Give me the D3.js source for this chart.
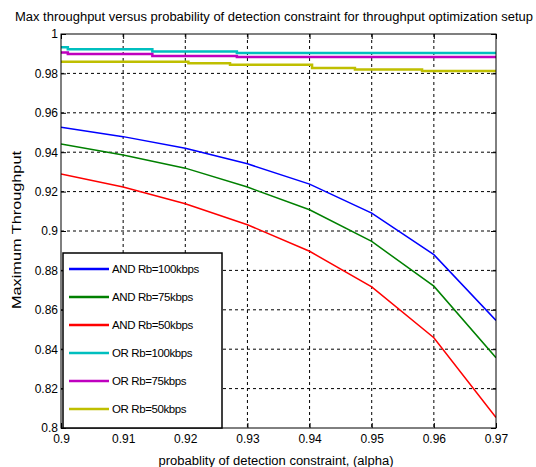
<!DOCTYPE html>
<html><head><meta charset="utf-8">
<script src="https://cdn.jsdelivr.net/npm/d3@7"></script>
<style>body{margin:0;background:#fff}text{font-family:"Liberation Sans",Arial,sans-serif;fill:#000}</style>
</head><body><svg id="c" width="536" height="467"></svg>
<script>
// ---- data ----
const alphaAND = [0.90,0.91,0.92,0.93,0.94,0.95,0.96,0.97];
const andRb100 = [0.9527,0.9479,0.9420,0.9341,0.9238,0.9091,0.8880,0.8546];
const andRb75  = [0.9442,0.9386,0.9319,0.9223,0.9108,0.8947,0.8720,0.8357];
const andRb50  = [0.9289,0.9223,0.9138,0.9032,0.8897,0.8716,0.8458,0.8053];
const alphaOR100 = [0.900,0.9011,0.9147,0.9283,0.97];
const orRb100    = [0.9933,0.9923,0.9911,0.9904,0.9904];
const alphaOR75  = [0.900,0.9011,0.9147,0.9283,0.97];
const orRb75     = [0.9906,0.9898,0.9888,0.9883,0.9883];
const alphaOR50  = [0.900,0.9205,0.9272,0.9404,0.9473,0.9581,0.97];
const orRb50     = [0.9859,0.9851,0.9844,0.9828,0.9820,0.9812,0.9812];
const seriesNames = ["AND Rb=100kbps","AND Rb=75kbps","AND Rb=50kbps","OR Rb=100kbps","OR Rb=75kbps","OR Rb=50kbps"];
const xTicks = [0.90,0.91,0.92,0.93,0.94,0.95,0.96,0.97];
const yTicks = [0.8,0.82,0.84,0.86,0.88,0.9,0.92,0.94,0.96,0.98,1];
const title = "Max throughput versus probability of detection constraint for throughput optimization setup";
const xLabel = "probablity of detection constraint, (alpha)";
const yLabel = "Maximum Throughput";

const series = [
  {name:seriesNames[0], xs:alphaAND, ys:andRb100, color:"#0000ff", w:1.5, step:false},
  {name:seriesNames[1], xs:alphaAND, ys:andRb75,  color:"#008000", w:1.5, step:false},
  {name:seriesNames[2], xs:alphaAND, ys:andRb50,  color:"#ff0000", w:1.5, step:false},
  {name:seriesNames[3], xs:alphaOR100, ys:orRb100, color:"#00bfbf", w:2.5, step:true},
  {name:seriesNames[4], xs:alphaOR75,  ys:orRb75,  color:"#bf00bf", w:2.5, step:true},
  {name:seriesNames[5], xs:alphaOR50,  ys:orRb50,  color:"#bfbf00", w:2.5, step:true}
];

const L=61,R=496,T=34,B=428;
const svg=d3.select("#c");
const x=d3.scaleLinear().domain([0.9,0.97]).range([L,R]);
const y=d3.scaleLinear().domain([0.8,1]).range([B,T]);

// grid
const g=svg.append("g");
g.selectAll(".gx").data(xTicks.slice(1,-1)).join("line")
  .attr("x1",d=>x(d)).attr("x2",d=>x(d)).attr("y1",T).attr("y2",B)
  .attr("stroke","#000").attr("stroke-width",1).attr("stroke-dasharray","3,3");
g.selectAll(".gy").data(yTicks.slice(1,-1)).join("line")
  .attr("x1",L).attr("x2",R).attr("y1",d=>y(d)).attr("y2",d=>y(d))
  .attr("stroke","#000").attr("stroke-width",1).attr("stroke-dasharray","3,3");

// lines
svg.append("defs").append("clipPath").attr("id","clip").append("rect")
  .attr("x",L).attr("y",T).attr("width",R-L).attr("height",B-T);
const lines=svg.append("g").attr("clip-path","url(#clip)");
series.forEach(s=>{
  const pts=s.xs.map((v,i)=>[v,s.ys[i]]);
  const ln=d3.line().x(d=>x(d[0])).y(d=>y(d[1])).curve(s.step?d3.curveStepAfter:d3.curveLinear);
  lines.append("path").attr("d",ln(pts)).attr("fill","none")
    .attr("stroke",s.color).attr("stroke-width",s.w);
});

// axes
const ax=svg.append("g").attr("transform",`translate(0,${B})`)
  .call(d3.axisBottom(x).tickValues(xTicks).tickSize(-5).tickFormat(d3.format("")));
const ay=svg.append("g").attr("transform",`translate(${L},0)`)
  .call(d3.axisLeft(y).tickValues(yTicks).tickSize(-5).tickFormat(d=>d3.format("")(+d.toFixed(2))));
[ax,ay].forEach(a=>{a.select(".domain").remove();a.selectAll("line").attr("stroke","#000");
  a.selectAll("text").attr("font-size","12px").attr("font-family","Liberation Sans, Arial, sans-serif").attr("fill","#000");});
ax.selectAll("text").attr("dy","0.3em").attr("y",11);
ay.selectAll("text").attr("x",-3);
svg.append("g").attr("transform",`translate(0,${T})`)
  .call(d3.axisTop(x).tickValues(xTicks).tickSize(-5).tickFormat(""))
  .call(a=>{a.select(".domain").remove();a.selectAll("line").attr("stroke","#000");});
svg.append("g").attr("transform",`translate(${R},0)`)
  .call(d3.axisRight(y).tickValues(yTicks).tickSize(-5).tickFormat(""))
  .call(a=>{a.select(".domain").remove();a.selectAll("line").attr("stroke","#000");});
svg.append("rect").attr("x",L).attr("y",T).attr("width",R-L).attr("height",B-T)
  .attr("fill","none").attr("stroke","#000").attr("stroke-width",1);

// legend
const lg=svg.append("g");
lg.append("rect").attr("x",63).attr("y",253).attr("width",159).attr("height",175)
  .attr("fill","#fff").attr("stroke","#000").attr("stroke-width",1.5);
series.forEach((s,i)=>{
  const yy=269+i*28;
  lg.append("line").attr("x1",69).attr("x2",109).attr("y1",yy).attr("y2",yy)
    .attr("stroke",s.color).attr("stroke-width",2.5);
  lg.append("text").attr("x",112).attr("y",yy).attr("dy","0.35em")
    .attr("font-size","11.5px").attr("letter-spacing","-0.4").text(s.name);
});

// labels
svg.append("text").attr("x",274).attr("y",21).attr("text-anchor","middle")
  .attr("font-size","12.5px").attr("textLength",518).attr("lengthAdjust","spacingAndGlyphs").text(title);
svg.append("text").attr("x",276).attr("y",465).attr("text-anchor","middle")
  .attr("font-size","12.5px").attr("textLength",235).attr("lengthAdjust","spacingAndGlyphs").text(xLabel);
svg.append("text").attr("transform","translate(21,230) rotate(-90)").attr("text-anchor","middle")
  .attr("font-size","13px").attr("textLength",158).attr("lengthAdjust","spacingAndGlyphs").text(yLabel);
</script></body></html>
